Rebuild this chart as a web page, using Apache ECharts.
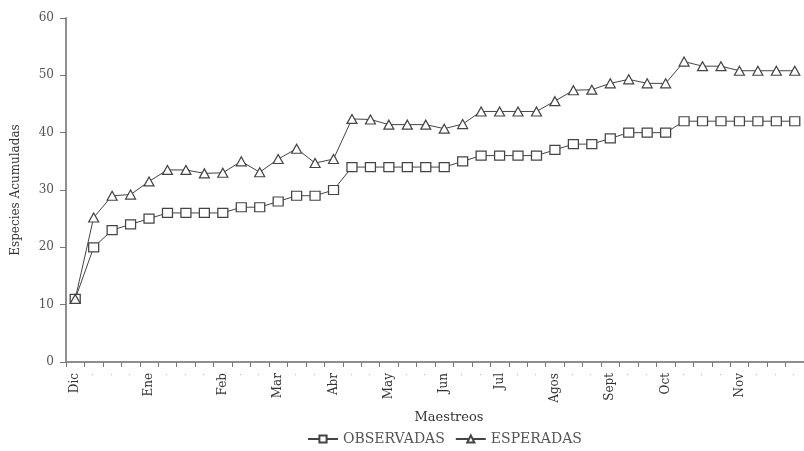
<!DOCTYPE html>
<html>
<head>
<meta charset="utf-8">
<script src="https://cdn.jsdelivr.net/npm/echarts@6/dist/echarts.min.js"></script>
<style>html,body{margin:0;padding:0;background:#fff}#c{width:804px;height:451px}</style>
</head>
<body>
<div id="c"></div>
<script>
var categories = ['Dic','','','','Ene','','','','Feb','','','Mar','','','Abr','','','May','','','Jun','','','Jul','','','Agos','','','Sept','','','Oct','','','','Nov','','',''];
var observadas = [11,20,23,24,25,26,26,26,26,27,27,28,29,29,30,34,34,34,34,34,34,35,36,36,36,36,37,38,38,39,40,40,40,42,42,42,42,42,42,42];
var esperadas = [11,25.2,29,29.2,31.5,33.5,33.5,32.9,33,35,33.1,35.4,37.2,34.7,35.4,42.4,42.3,41.4,41.4,41.4,40.7,41.5,43.7,43.7,43.7,43.7,45.5,47.4,47.5,48.6,49.3,48.6,48.6,52.4,51.6,51.6,50.8,50.8,50.8,50.8];
var yTicks = [0,10,20,30,40,50,60];

var FONT = 'DejaVu Serif';
var chart = echarts.init(document.getElementById('c'), null, {renderer:'canvas'});
chart.setOption({
  animation: false,
  backgroundColor: '#ffffff',
  textStyle: {fontFamily: FONT},
  grid: {left: 66, top: 18, width: 745, height: 344},
  legend: {
    bottom: 0, left: 302,
    itemWidth: 30, itemHeight: 9, itemGap: 10,
    textStyle: {fontFamily: FONT, fontSize: 14, color: '#555'},
    data: ['OBSERVADAS','ESPERADAS']
  },
  xAxis: {
    type: 'category', data: categories, boundaryGap: true,
    name: 'Maestreos', nameLocation: 'middle', nameGap: 46,
    nameTextStyle: {fontFamily: FONT, fontSize: 13, color: '#333', padding: [0,0,0,28]},
    axisLine: {lineStyle: {color: '#8f8f8f', width: 2}},
    axisTick: {show: true, interval: 0, alignWithLabel: false, length: 5, lineStyle: {color: '#777', width: 1}},
    axisLabel: {
      interval: 0, rotate: 90, margin: 11, fontFamily: FONT, fontSize: 12, color: '#333',
      formatter: function (v) { return v === '' ? '{d|·}' : v; },
      rich: {d: {color: '#bbb', fontSize: 10}}
    },
    splitLine: {show: false}
  },
  yAxis: {
    type: 'value', min: yTicks[0], max: yTicks[yTicks.length-1], interval: 10,
    name: 'Especies Acumuladas', nameLocation: 'middle', nameGap: 44,
    nameTextStyle: {fontFamily: FONT, fontSize: 12, color: '#333'},
    axisLine: {show: true, lineStyle: {color: '#8f8f8f', width: 2}},
    axisTick: {show: true, length: 6, lineStyle: {color: '#777', width: 1}},
    axisLabel: {fontFamily: FONT, fontSize: 12, color: '#555', margin: 12},
    splitLine: {show: false}
  },
  series: [
    {
      name: 'OBSERVADAS', type: 'line', data: observadas,
      symbol: 'rect', symbolSize: [10, 9], showAllSymbol: true,
      lineStyle: {color: '#444', width: 1},
      itemStyle: {color: '#fff', borderColor: '#444', borderWidth: 1.2}
    },
    {
      name: 'ESPERADAS', type: 'line', data: esperadas,
      symbol: 'triangle', symbolSize: [10, 9], showAllSymbol: true,
      lineStyle: {color: '#444', width: 1},
      itemStyle: {color: '#fff', borderColor: '#444', borderWidth: 1.2}
    }
  ]
});
</script>
</body>
</html>
